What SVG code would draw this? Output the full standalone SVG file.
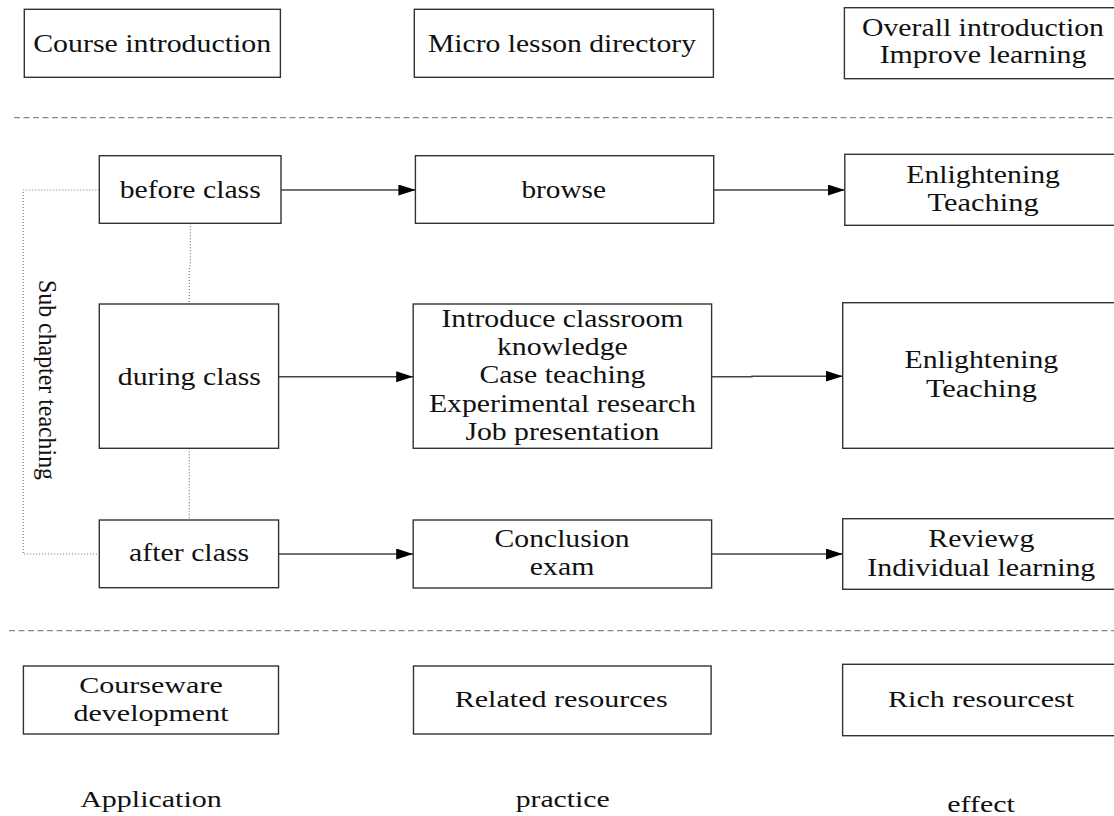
<svg xmlns="http://www.w3.org/2000/svg" width="1114" height="816" viewBox="0 0 1114 816">
<style>
  .box { fill: #ffffff; stroke: #333333; stroke-width: 1.4; }
  .t { font-family: "Liberation Serif", "Times New Roman", serif; font-size: 26px; fill: #111111; text-anchor: middle; }
  .tb { font-family: "Liberation Serif", "Times New Roman", serif; font-size: 24px; fill: #111111; text-anchor: middle; }
  .arrow { fill: none; stroke: #444444; stroke-width: 1.4; marker-end: url(#ah); }
  .dot { fill: none; stroke: #777777; stroke-width: 1.2; stroke-dasharray: 1 2; }
  .dash { fill: none; stroke: #888888; stroke-width: 1.2; stroke-dasharray: 6 3.5; }
</style>
<defs>
  <marker id="ah" markerUnits="userSpaceOnUse" markerWidth="17" markerHeight="12" refX="17" refY="5.5" orient="auto">
    <path d="M0,0 L17,5.5 L0,11 z" fill="#000000"/>
  </marker>
</defs>
<rect width="1114" height="816" fill="#ffffff"/>

<g id="separators">
  <line class="dash" x1="14" y1="117.7" x2="1114" y2="117.7"/>
  <line class="dash" x1="9" y1="630.7" x2="1114" y2="630.7"/>
</g>

<g id="connectors">
  <line class="arrow" x1="281" y1="190" x2="415.4" y2="190"/>
  <line class="arrow" x1="713.7" y1="190" x2="844.8" y2="190"/>
  <line class="arrow" x1="278.6" y1="376.7" x2="413.2" y2="376.7"/>
  <polyline class="arrow" points="711.6,376.7 752,376.7 752,376.2 842.7,376.2"/>
  <line class="arrow" x1="278.6" y1="554" x2="413.2" y2="554"/>
  <line class="arrow" x1="711.6" y1="554" x2="842.7" y2="554"/>
  <polyline class="dot" points="99.3,190 23.2,190 23.2,554 99.3,554"/>
  <polyline class="dot" points="190.4,223.3 190.4,265 189.3,267 189.3,304"/>
  <line class="dot" x1="189.3" y1="448.3" x2="189.3" y2="520"/>
</g>

<g id="course-introduction">
  <rect class="box" x="24.3" y="9.3" width="256.1" height="68"/>
  <text class="t" x="152.2" y="51.7" textLength="238" lengthAdjust="spacingAndGlyphs">Course introduction</text>
</g>
<g id="micro-lesson-directory">
  <rect class="box" x="414.3" y="9.3" width="299.1" height="68"/>
  <text class="t" x="562" y="51.7" textLength="268" lengthAdjust="spacingAndGlyphs">Micro lesson directory</text>
</g>
<g id="overall-introduction">
  <rect class="box" x="844.4" y="7.7" width="290" height="71"/>
  <text class="t" x="983" y="35.5" textLength="242" lengthAdjust="spacingAndGlyphs">Overall introduction</text>
  <text class="t" x="983" y="63" textLength="206.7" lengthAdjust="spacingAndGlyphs">Improve learning</text>
</g>

<g id="before-class">
  <rect class="box" x="99.3" y="155.7" width="181.7" height="67.6"/>
  <text class="t" x="190.2" y="198.3" textLength="141" lengthAdjust="spacingAndGlyphs">before class</text>
</g>
<g id="browse">
  <rect class="box" x="415.4" y="155.7" width="298.3" height="67.6"/>
  <text class="t" x="563.7" y="198.3" textLength="84.6" lengthAdjust="spacingAndGlyphs">browse</text>
</g>
<g id="enlightening-teaching-1">
  <rect class="box" x="844.8" y="154.3" width="290" height="71"/>
  <text class="t" x="983.1" y="183.3" textLength="153.7" lengthAdjust="spacingAndGlyphs">Enlightening</text>
  <text class="t" x="983.1" y="210.7" textLength="111" lengthAdjust="spacingAndGlyphs">Teaching</text>
</g>

<g id="during-class">
  <rect class="box" x="99.3" y="304" width="179.3" height="144.3"/>
  <text class="t" x="189.3" y="385" textLength="143" lengthAdjust="spacingAndGlyphs">during class</text>
</g>
<g id="introduce-classroom">
  <rect class="box" x="413.2" y="304" width="298.4" height="144.3"/>
  <text class="t" x="562.4" y="326.7" textLength="242" lengthAdjust="spacingAndGlyphs">Introduce classroom</text>
  <text class="t" x="562.4" y="355" textLength="131" lengthAdjust="spacingAndGlyphs">knowledge</text>
  <text class="t" x="562.4" y="383.3" textLength="166" lengthAdjust="spacingAndGlyphs">Case teaching</text>
  <text class="t" x="562.4" y="411.7" textLength="267" lengthAdjust="spacingAndGlyphs">Experimental research</text>
  <text class="t" x="562.4" y="440" textLength="194" lengthAdjust="spacingAndGlyphs">Job presentation</text>
</g>
<g id="enlightening-teaching-2">
  <rect class="box" x="842.7" y="302.7" width="290" height="145.6"/>
  <text class="t" x="981.4" y="368.3" textLength="153.7" lengthAdjust="spacingAndGlyphs">Enlightening</text>
  <text class="t" x="981.4" y="396.7" textLength="111" lengthAdjust="spacingAndGlyphs">Teaching</text>
</g>

<g id="after-class">
  <rect class="box" x="99.3" y="520" width="179.3" height="67.7"/>
  <text class="t" x="189.1" y="560.7" textLength="120" lengthAdjust="spacingAndGlyphs">after class</text>
</g>
<g id="conclusion-exam">
  <rect class="box" x="413.2" y="520" width="298.4" height="68"/>
  <text class="t" x="562.1" y="546.7" textLength="135" lengthAdjust="spacingAndGlyphs">Conclusion</text>
  <text class="t" x="562.1" y="575" textLength="64.5" lengthAdjust="spacingAndGlyphs">exam</text>
</g>
<g id="reviewg">
  <rect class="box" x="842.7" y="518.7" width="290" height="70.6"/>
  <text class="t" x="981.3" y="546.7" textLength="106" lengthAdjust="spacingAndGlyphs">Reviewg</text>
  <text class="t" x="981.3" y="575.7" textLength="228" lengthAdjust="spacingAndGlyphs">Individual learning</text>
</g>

<g id="sub-chapter-teaching">
  <text class="t" x="380" y="-39" transform="rotate(90)" font-size="27" textLength="200" lengthAdjust="spacingAndGlyphs">Sub chapter teaching</text>
</g>

<g id="courseware-development">
  <rect class="box" x="23.4" y="666" width="255.1" height="68"/>
  <text class="tb" x="151" y="693.3" textLength="143.5" lengthAdjust="spacingAndGlyphs">Courseware</text>
  <text class="tb" x="151" y="720.7" textLength="155" lengthAdjust="spacingAndGlyphs">development</text>
</g>
<g id="related-resources">
  <rect class="box" x="413.5" y="666" width="297.6" height="68"/>
  <text class="tb" x="561.2" y="706.7" textLength="213" lengthAdjust="spacingAndGlyphs">Related resources</text>
</g>
<g id="rich-resourcest">
  <rect class="box" x="842.6" y="664.3" width="290" height="71.4"/>
  <text class="tb" x="981" y="706.7" textLength="186" lengthAdjust="spacingAndGlyphs">Rich resourcest</text>
</g>

<g id="column-labels">
  <text class="tb" x="151" y="806.7" textLength="141.6" lengthAdjust="spacingAndGlyphs">Application</text>
  <text class="tb" x="562.7" y="806.7" textLength="94" lengthAdjust="spacingAndGlyphs">practice</text>
  <text class="tb" x="981" y="811.7" textLength="67.5" lengthAdjust="spacingAndGlyphs">effect</text>
</g>
</svg>
